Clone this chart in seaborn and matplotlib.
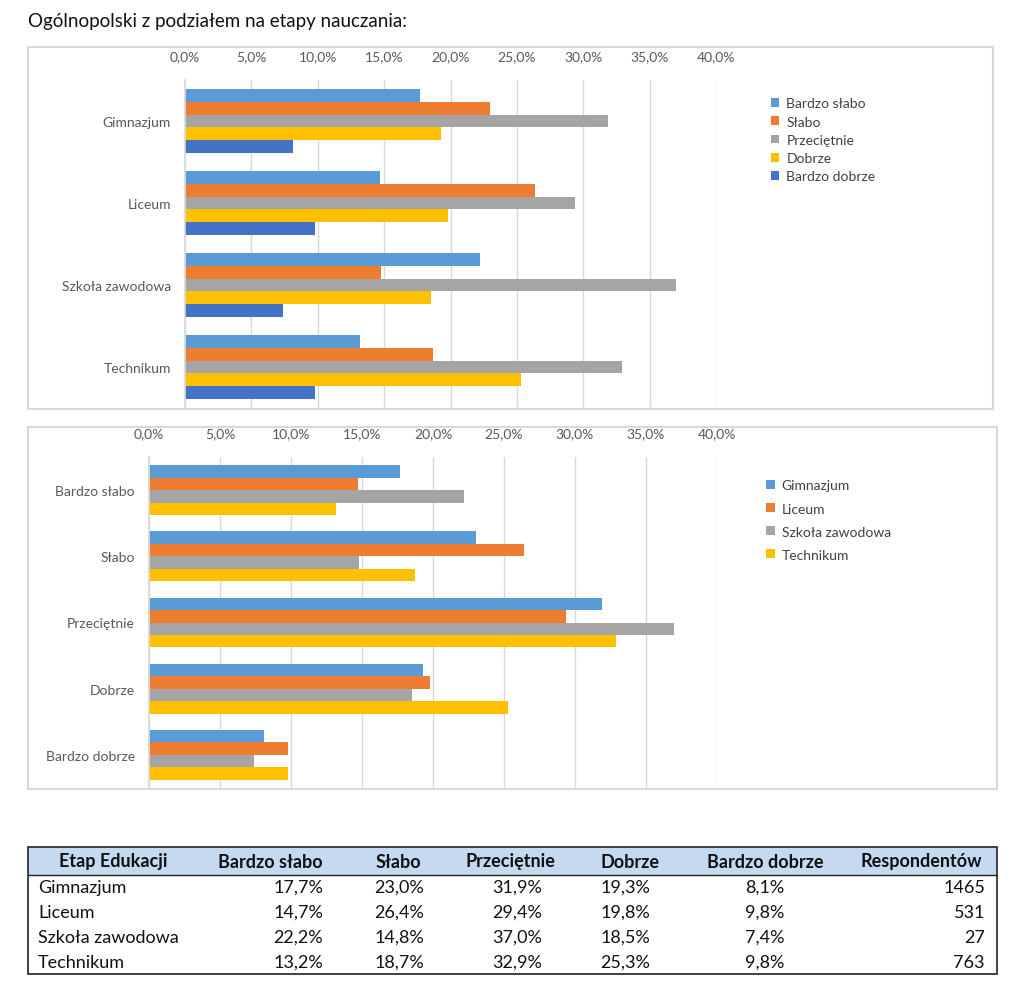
import matplotlib.pyplot as plt
import matplotlib.patches as mpatches
from matplotlib.ticker import FuncFormatter, MultipleLocator
import seaborn as sns
import pandas as pd

# Dane z tabeli
etapy = ['Gimnazjum', 'Liceum', 'Szkoła zawodowa', 'Technikum']
oceny = ['Bardzo słabo', 'Słabo', 'Przeciętnie', 'Dobrze', 'Bardzo dobrze']
bardzo_slabo = [17.7, 14.7, 22.2, 13.2]
slabo = [23.0, 26.4, 14.8, 18.7]
przecietnie = [31.9, 29.4, 37.0, 32.9]
dobrze = [19.3, 19.8, 18.5, 25.3]
bardzo_dobrze = [8.1, 9.8, 7.4, 9.8]
respondentow = [1465, 531, 27, 763]

kolory_ocen = ['#5B9BD5', '#ED7D31', '#A5A5A5', '#FFC000', '#4472C4']
kolory_etapow = ['#5B9BD5', '#ED7D31', '#A5A5A5', '#FFC000']

wartosci = [bardzo_slabo, slabo, przecietnie, dobrze, bardzo_dobrze]
rows = []
for ocena, vals in zip(oceny, wartosci):
    for etap, v in zip(etapy, vals):
        rows.append({'Etap': etap, 'Ocena': ocena, 'Procent': v})
df = pd.DataFrame(rows)

sns.set_theme(style='white')
plt.rcParams['font.family'] = ['Lato', 'DejaVu Sans']

W, H = 1024, 995
fig = plt.figure(figsize=(W / 100, H / 100), dpi=100)
fig.patch.set_facecolor('white')


def px_axes(x0, y0, x1, y1):
    # pozycja w pikselach (od lewego górnego rogu)
    return fig.add_axes([x0 / W, 1 - y1 / H, (x1 - x0) / W, (y1 - y0) / H])


def ramka(x0, y0, x1, y1):
    fig.patches.append(mpatches.Rectangle((x0 / W, 1 - y1 / H), (x1 - x0) / W, (y1 - y0) / H,
                                          transform=fig.transFigure, fill=False,
                                          edgecolor='#D9D9D9', linewidth=1.5, zorder=0))


pct = FuncFormatter(lambda v, p: f'{v:.1f}%'.replace('.', ','))

fig.text(28 / W, 1 - 21 / H, 'Ogólnopolski z podziałem na etapy nauczania:',
         fontsize=13.5, va='center', ha='left', color='#111111')


def styl(ax):
    ax.set_xlim(0, 40)
    ax.xaxis.set_major_locator(MultipleLocator(5))
    ax.xaxis.set_major_formatter(pct)
    ax.xaxis.tick_top()
    ax.tick_params(axis='x', length=0, pad=13, labelsize=10, labelcolor='#595959')
    ax.tick_params(axis='y', length=0, pad=10, labelsize=10, labelcolor='#595959')
    ax.grid(axis='x', color='#D9D9D9', linewidth=1)
    ax.set_axisbelow(True)
    for s in ['top', 'right', 'bottom']:
        ax.spines[s].set_visible(False)
    ax.spines['left'].set_color('#D9D9D9')
    ax.set_xlabel('')
    ax.set_ylabel('')


# Wykres 1: etapy na osi Y, oceny jako kolory
ramka(28, 48, 993, 410)
ax1 = px_axes(185, 81, 716, 409)
sns.barplot(data=df, y='Etap', x='Procent', hue='Ocena', order=etapy, hue_order=oceny,
            palette=kolory_ocen, orient='h', width=0.77, linewidth=0, saturation=1,
            errorbar=None, ax=ax1)
styl(ax1)
ax1.legend(loc='upper left', bbox_to_anchor=(1.08, 0.985), frameon=False, fontsize=10,
           handlelength=0.6, handleheight=0.6, handletextpad=0.5, labelspacing=0.45,
           labelcolor='#404040')

# Wykres 2: oceny na osi Y, etapy jako kolory
ramka(28, 428, 997, 790)
ax2 = px_axes(149, 458, 717, 789)
sns.barplot(data=df, y='Ocena', x='Procent', hue='Etap', order=oceny, hue_order=etapy,
            palette=kolory_etapow, orient='h', width=0.75, linewidth=0, saturation=1,
            errorbar=None, ax=ax2)
styl(ax2)
ax2.legend(loc='upper left', bbox_to_anchor=(1.065, 0.97), frameon=False, fontsize=10,
           handlelength=0.6, handleheight=0.6, handletextpad=0.5, labelspacing=0.8,
           labelcolor='#404040')

# Tabela
axt = fig.add_axes([0, 0, 1, 1])
axt.set_xlim(0, W)
axt.set_ylim(H, 0)
axt.axis('off')
axt.add_patch(mpatches.Rectangle((28, 848), 969, 28, facecolor='#C5D9F1', edgecolor='none'))
axt.plot([28, 997], [876, 876], color='#222222', linewidth=1)
axt.add_patch(mpatches.Rectangle((28, 848), 969, 127, fill=False, edgecolor='#222222', linewidth=1.2))

naglowki = ['Etap Edukacji', 'Bardzo słabo', 'Słabo', 'Przeciętnie', 'Dobrze', 'Bardzo dobrze', 'Respondentów']
x_nagl = [113, 270, 398, 510, 630, 765, 921]
for t, x in zip(naglowki, x_nagl):
    axt.text(x, 862, t, ha='center', va='center', fontsize=13, fontweight='bold', color='#111111')

x_prawe = [323, 424, 542, 650, 784]
y_wiersze = [888, 913, 938, 963]
for i, etap in enumerate(etapy):
    y = y_wiersze[i]
    axt.text(38, y, etap, ha='left', va='center', fontsize=13, color='#111111')
    for vals, x in zip(wartosci, x_prawe):
        axt.text(x, y, f'{vals[i]:.1f}%'.replace('.', ','), ha='right', va='center',
                 fontsize=13, color='#111111')
    axt.text(985, y, str(respondentow[i]), ha='right', va='center', fontsize=13, color='#111111')

fig.savefig('out.png', dpi=100)
